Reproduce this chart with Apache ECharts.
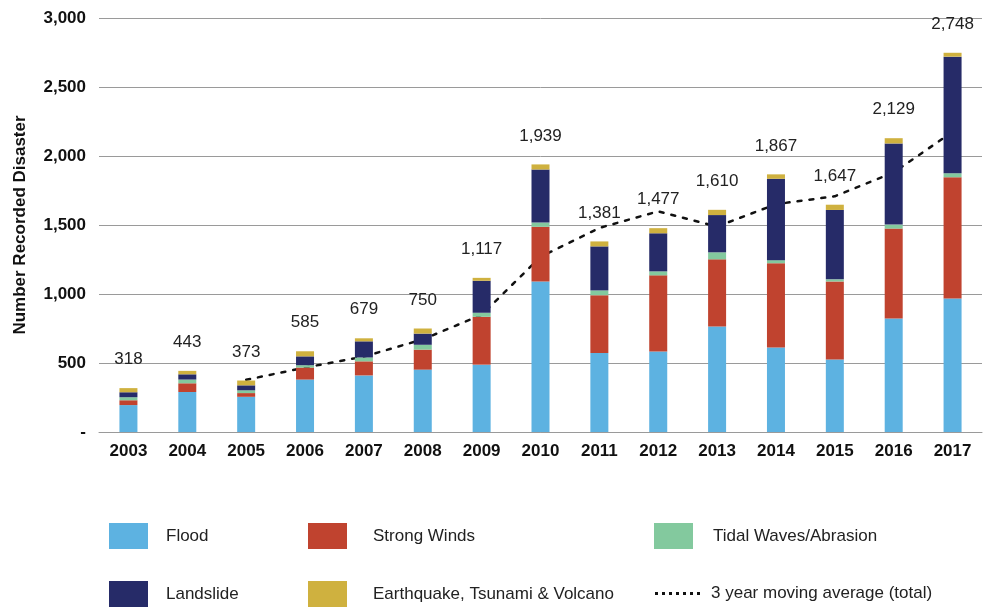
<!DOCTYPE html>
<html>
<head>
<meta charset="utf-8">
<script src="https://cdn.jsdelivr.net/npm/echarts@6/dist/echarts.min.js"></script>
<style>html,body{margin:0;padding:0;background:#fff}#c{width:990px;height:608px}</style>
</head>
<body>
<div id="c"></div>
<script>
var years = ['2003','2004','2005','2006','2007','2008','2009','2010','2011','2012','2013','2014','2015','2016','2017'];
var flood      = [195, 290, 255, 380, 410, 452, 488, 1090, 573, 584, 765, 613, 526, 822, 968];
var winds      = [35, 63, 27, 87, 102, 145, 347, 397, 418, 551, 486, 610, 565, 652, 878];
var tidal      = [22, 27, 20, 17, 28, 35, 29, 31, 35, 29, 51, 22, 15, 29, 29];
var landslide  = [36, 38, 36, 64, 117, 81, 232, 384, 319, 276, 270, 590, 503, 588, 845];
var quake      = [30, 25, 35, 37, 22, 37, 21, 37, 36, 37, 38, 32, 38, 38, 28];
var totals     = [318, 443, 373, 585, 679, 750, 1117, 1939, 1381, 1477, 1610, 1867, 1647, 2129, 2748];
var movingAvg  = [null, null, 378, 467, 546, 671, 849, 1269, 1479, 1599, 1489, 1651, 1708, 1881, 2175];
var yTicks     = [0, 500, 1000, 1500, 2000, 2500, 3000];

var FONT = "'Liberation Sans', Arial, Helvetica, sans-serif";
var colors = {
  flood: '#5db2e1',
  winds: '#c0432f',
  tidal: '#83c99e',
  landslide: '#262b68',
  quake: '#cfb13f'
};
var dotsIcon = 'path://M0,0h3v3h-3z M7,0h3v3h-3z M14,0h3v3h-3z M21,0h3v3h-3z M28,0h3v3h-3z M35,0h3v3h-3z M42,0h3v3h-3z';

function barSeries(name, data, color, withLabel) {
  var s = {
    name: name,
    type: 'bar',
    stack: 'total',
    barWidth: 18,
    z: 3,
    data: data,
    itemStyle: { color: color },
    emphasis: { disabled: true }
  };
  if (withLabel) {
    s.label = {
      show: true,
      position: 'top',
      distance: 20,
      fontFamily: FONT,
      fontSize: 17,
      color: '#222',
      formatter: function (p) { return totals[p.dataIndex].toLocaleString('en-US'); }
    };
  }
  return s;
}

function legendItem(name, left, top, padLeft, icon, w, h) {
  return {
    data: [name],
    left: left,
    top: top,
    padding: 0,
    itemWidth: w || 39,
    itemHeight: h || 26,
    icon: icon || 'rect',
    selectedMode: false,
    textStyle: { fontFamily: FONT, fontSize: 17, color: '#222', padding: [0, 0, 0, padLeft] }
  };
}

var chart = echarts.init(document.getElementById('c'), null, { renderer: 'canvas' });
chart.setOption({
  animation: false,
  backgroundColor: '#fff',
  textStyle: { fontFamily: FONT },
  grid: { left: 99, top: 18, width: 883, height: 414, containLabel: false },
  legend: [
    legendItem('Flood', 109, 523, 13),
    legendItem('Strong Winds', 308, 523, 21),
    legendItem('Tidal Waves/Abrasion', 654, 523, 15),
    legendItem('Landslide', 109, 581, 13),
    legendItem('Earthquake, Tsunami & Volcano', 308, 581, 21),
    legendItem('3 year moving average (total)', 655, 585, 6, dotsIcon, 45, 3)
  ],
  xAxis: {
    type: 'category',
    data: years,
    axisTick: { show: false },
    axisLine: { lineStyle: { color: '#9a9a9a', width: 1 } },
    axisLabel: { fontFamily: FONT, fontSize: 17, fontWeight: 'bold', color: '#111', margin: 11 }
  },
  yAxis: {
    type: 'value',
    min: yTicks[0],
    max: yTicks[yTicks.length - 1],
    interval: yTicks[1] - yTicks[0],
    name: 'Number Recorded Disaster',
    nameLocation: 'middle',
    nameGap: 70,
    nameTextStyle: { fontFamily: FONT, fontSize: 17, fontWeight: 'bold', color: '#111' },
    axisLine: { show: false },
    axisTick: { show: false },
    splitLine: { lineStyle: { color: '#9a9a9a', width: 1 } },
    axisLabel: {
      fontFamily: FONT, fontSize: 17, fontWeight: 'bold', color: '#111', margin: 13,
      formatter: function (v) { return v === 0 ? '-' : v.toLocaleString('en-US'); }
    }
  },
  series: [
    {
      name: '3 year moving average (total)',
      type: 'line',
      z: 1,
      data: movingAvg,
      symbol: 'none',
      connectNulls: false,
      lineStyle: { color: '#111', width: 2.5, type: [4, 8], cap: 'round' },
      itemStyle: { color: '#111' },
      emphasis: { disabled: true }
    },
    barSeries('Flood', flood, colors.flood),
    barSeries('Strong Winds', winds, colors.winds),
    barSeries('Tidal Waves/Abrasion', tidal, colors.tidal),
    barSeries('Landslide', landslide, colors.landslide),
    barSeries('Earthquake, Tsunami & Volcano', quake, colors.quake, true)
  ]
});
</script>
</body>
</html>
